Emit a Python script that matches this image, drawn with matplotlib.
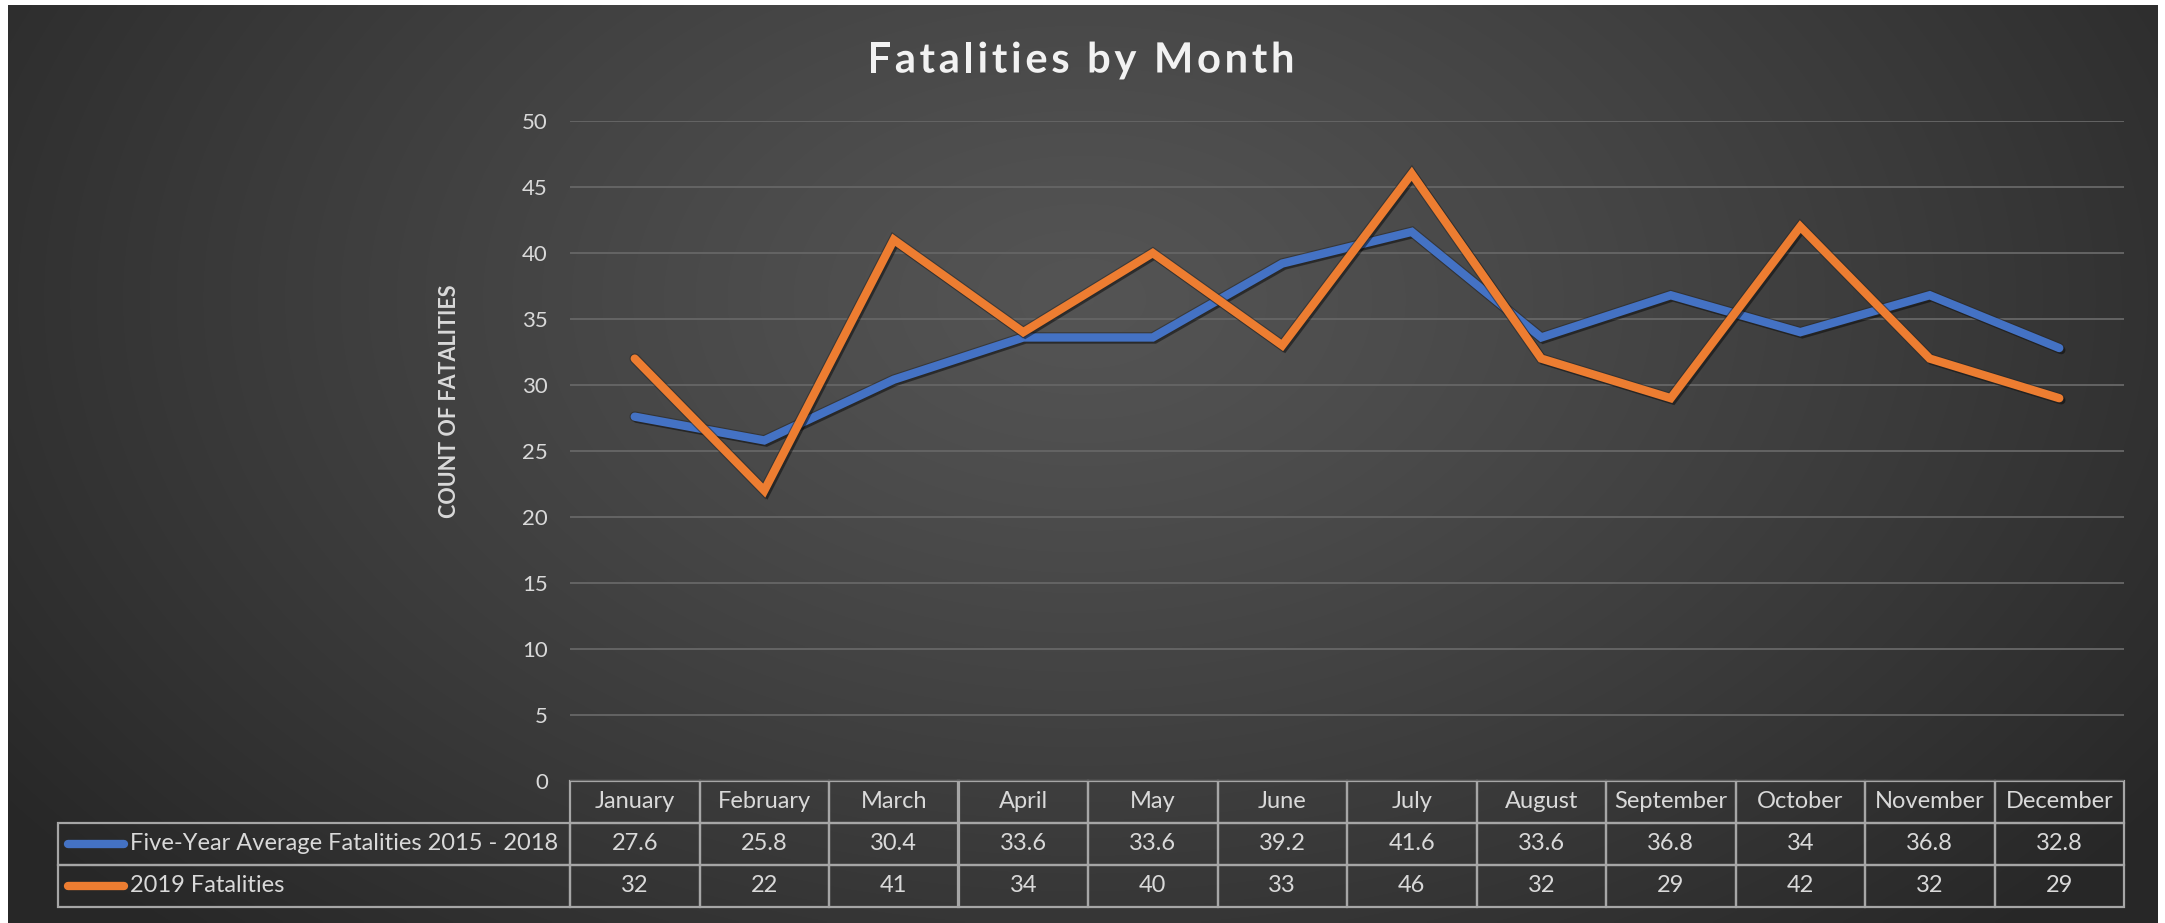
import numpy as np
import matplotlib
matplotlib.use("Agg")
import matplotlib.pyplot as plt
import matplotlib.patheffects as pe
from matplotlib.table import Table
from matplotlib.font_manager import FontProperties

plt.rcParams["font.family"] = ["Lato", "DejaVu Sans"]

# data
months = ["January", "February", "March", "April", "May", "June", "July",
          "August", "September", "October", "November", "December"]
avg_label = "Five-Year Average Fatalities 2015 - 2018"
avg_vals = [27.6, 25.8, 30.4, 33.6, 33.6, 39.2, 41.6, 33.6, 36.8, 34, 36.8, 32.8]
cur_label = "2019 Fatalities"
cur_vals = [32, 22, 41, 34, 40, 33, 46, 32, 29, 42, 32, 29]
y_ticks = [0, 5, 10, 15, 20, 25, 30, 35, 40, 45, 50]
title = "Fatalities by Month"

BLUE = "#4472C4"
ORANGE = "#ED7D31"
TXT = "#D9D9D9"

W, H = 2165, 923
fig = plt.figure(figsize=(W / 100, H / 100), dpi=100, facecolor="white")

# dark radial background (Excel style)
bg = fig.add_axes([8 / W, 0, (2158 - 8) / W, 1 - 5 / H], zorder=-5)
gx, gy = np.meshgrid(np.linspace(0, 1, 600), np.linspace(0, 1, 260))
d = np.sqrt(((gx - 0.5) / 0.62) ** 2 + ((gy - 0.32) / 0.95) ** 2)
d = np.clip(d, 0, 1)
c_in, c_out = 0.33, 0.155
img = c_in + (c_out - c_in) * d ** 1.2
bg.imshow(np.dstack([img, img, img]), aspect="auto", extent=[0, 1, 1, 0],
          interpolation="bilinear")
bg.set_xlim(0, 1)
bg.set_ylim(1, 0)
bg.axis("off")

# plot area
px0, px1 = 570, 2124
py0, py1 = 121, 781
ax = fig.add_axes([px0 / W, 1 - py1 / H, (px1 - px0) / W, (py1 - py0) / H])
ax.set_facecolor("none")
for s in ax.spines.values():
    s.set_visible(False)

x = np.arange(len(months))
shadow = [pe.SimpleLineShadow(offset=(1.5, -1.5), shadow_color="black", alpha=0.45),
          pe.Stroke(linewidth=7.6, foreground="#262626", alpha=0.55),
          pe.Normal()]
ax.plot(x, avg_vals, color=BLUE, lw=6, solid_capstyle="round",
        solid_joinstyle="miter", path_effects=shadow, zorder=3)
ax.plot(x, cur_vals, color=ORANGE, lw=6, solid_capstyle="round",
        solid_joinstyle="miter", path_effects=shadow, zorder=4)

ax.set_xlim(-0.5, len(months) - 0.5)
ax.set_ylim(0, 50)
ax.set_yticks(y_ticks)
ax.set_xticks([])
ax.tick_params(axis="y", length=0, pad=16, labelsize=16, labelcolor=TXT)
ax.yaxis.grid(True, color="#646464", lw=1.4)
ax.set_axisbelow(True)

fig.text(449 / W, 1 - 401 / H, "COUNT OF FATALITIES", rotation=90, color=TXT,
         fontsize=15.5, fontweight="bold", ha="center", va="center")

# title with letter spacing, drawn char by char
tprop = FontProperties(family=["Lato", "DejaVu Sans"], weight="bold", size=30)
rend = fig.canvas.get_renderer()


def text_w(s):
    if not s:
        return 0.0
    return rend.get_text_width_height_descent(s, tprop, ismath=False)[0]


spacing = 3.7
total = text_w(title) + spacing * (len(title) - 1)
x_start = 1081 - total / 2
for i, ch in enumerate(title):
    if ch == " ":
        continue
    xo = text_w(title[:i + 1]) - text_w(ch) + spacing * i
    fig.text((x_start + xo) / W, 1 - 72.5 / H, ch, fontproperties=tprop,
             color="#F2F2F2", ha="left", va="baseline",
             path_effects=[pe.withSimplePatchShadow(offset=(1.5, -1.5), alpha=0.5)])

# data table under the axis
lab_w = (px0 - 58) / (px1 - px0)
tbl_h = (907 - 781) / (py1 - py0)
col_w = 1 / len(months)
row_h = tbl_h / 3
tbl = Table(ax, bbox=[0, -tbl_h, 1, tbl_h])
for j, m in enumerate(months):
    tbl.add_cell(0, j, col_w, row_h, text=m, loc="center")
for i, (lab, vals) in enumerate([(avg_label, avg_vals), (cur_label, cur_vals)]):
    tbl.add_cell(i + 1, -1, lab_w, row_h, text=lab, loc="left")
    for j, v in enumerate(vals):
        tbl.add_cell(i + 1, j, col_w, row_h, text=f"{v:g}", loc="center")
tbl.auto_set_font_size(False)
tbl.set_fontsize(17)
for (r, c), cell in tbl.get_celld().items():
    cell.set_facecolor("none")
    cell.set_edgecolor("#A6A6A6")
    cell.set_linewidth(1.6)
    cell.get_text().set_color(TXT)
    if c == -1:
        cell.PAD = 72 / (px0 - 58)
ax.add_table(tbl)

# legend keys inside the row label cells
for i, col in enumerate([BLUE, ORANGE]):
    yc = -row_h * (1.5 + i)
    ax.plot([-lab_w + 10 / (px1 - px0), -lab_w + 66 / (px1 - px0)],
            [yc, yc], transform=ax.transAxes, color=col, lw=6,
            solid_capstyle="round", clip_on=False, zorder=6)

fig.savefig("out.png", dpi=100, facecolor=fig.get_facecolor())
